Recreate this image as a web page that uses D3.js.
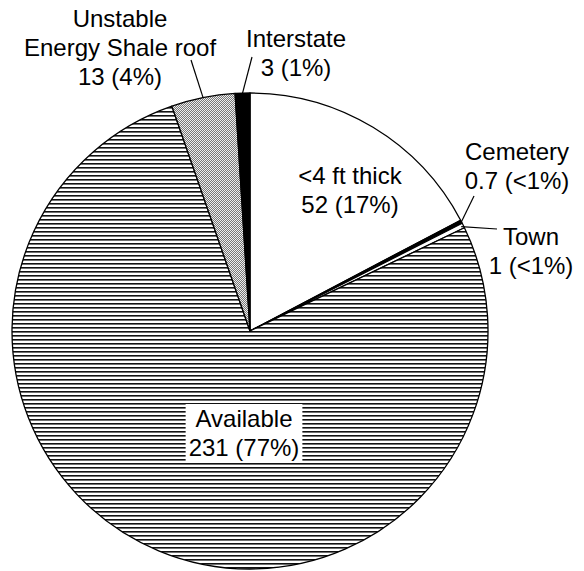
<!DOCTYPE html>
<html>
<head>
<meta charset="utf-8">
<script src="https://cdn.jsdelivr.net/npm/d3@7"></script>
<style>
  body { margin: 0; background: #fff; }
  svg { display: block; font-family: "Liberation Sans", Arial, sans-serif; }
</style>
</head>
<body>
<svg id="chart" width="584" height="571"></svg>
<script>
// slices clockwise from 12 o'clock
const categories = ['<4 ft thick', 'Cemetery', 'Town', 'Available', 'Unstable Energy Shale roof', 'Interstate']
const values = [52, 0.7, 1, 231, 13, 3]
const fills = ['#fff', '#000', '#fff', 'url(#hatch)', 'url(#stipple)', '#000']

// label layout: text lines (name part), anchor x, first baseline y, optional leader end
const labelLayout = {
	'<4 ft thick': { lines: ['<4 ft thick'], x: 350, y: 184 },
	'Cemetery': { lines: ['Cemetery'], x: 517, y: 160, leader: [474, 196], r: 1 },
	'Town': { lines: ['Town'], x: 531, y: 245, leader: [497, 229], r: 0.99 },
	'Available': { lines: ['Available'], x: 244, y: 427, box: true },
	'Unstable Energy Shale roof': { lines: ['Unstable', 'Energy Shale roof'], x: 120, y: 27, leader: [191, 60], r: 1 },
	'Interstate': { lines: ['Interstate'], x: 296, y: 47, leader: [252, 57], r: 1 }
}

const cx = 250
const cy = 331
const radius = 238
const lineHeight = 29

const svg = d3.select('#chart')
const total = d3.sum(values)

const defs = svg.append('defs')
const hatch = defs.append('pattern')
	.attr('id', 'hatch')
	.attr('patternUnits', 'userSpaceOnUse')
	.attr('width', 8)
	.attr('height', 4)
hatch.append('rect').attr('width', 8).attr('height', 4).attr('fill', '#fff')
hatch.append('rect').attr('y', 0).attr('width', 8).attr('height', 1.6).attr('fill', '#111')

const stipple = defs.append('pattern')
	.attr('id', 'stipple')
	.attr('patternUnits', 'userSpaceOnUse')
	.attr('width', 2)
	.attr('height', 2)
stipple.append('rect').attr('width', 2).attr('height', 2).attr('fill', '#eee')
stipple.append('rect').attr('width', 1).attr('height', 1).attr('fill', '#777')
stipple.append('rect').attr('x', 1).attr('y', 1).attr('width', 1).attr('height', 1).attr('fill', '#777')

const data = categories.map((name, i) => ({ name, value: values[i], fill: fills[i] }))

const pie = d3.pie()
	.sort(null)
	.value((d) => d.value)

const arcs = pie(data)

const arc = d3.arc()
	.innerRadius(0)
	.outerRadius(radius)

const g = svg.append('g')
	.attr('transform', `translate(${cx},${cy})`)

g.selectAll('path.slice')
	.data(arcs)
	.join('path')
		.attr('class', 'slice')
		.attr('d', arc)
		.attr('fill', (d) => d.data.fill)
		.attr('stroke', '#000')
		.attr('stroke-width', 1.3)
		.attr('stroke-linejoin', 'round')

const pctText = (v) => {
	const p = Math.round(v / total * 100)
	return p < 1 ? '<1%' : p + '%'
}
const valText = (v) => d3.format('~g')(v) + ' (' + pctText(v) + ')'

// leader lines from the rim at slice mid angle
arcs.forEach((a) => {
	const lay = labelLayout[a.data.name]
	if (!lay.leader) return
	const mid = (a.startAngle + a.endAngle) / 2
	const rr = radius * lay.r
	svg.append('line')
		.attr('x1', cx + rr * Math.sin(mid))
		.attr('y1', cy - rr * Math.cos(mid))
		.attr('x2', lay.leader[0])
		.attr('y2', lay.leader[1])
		.attr('stroke', '#000')
		.attr('stroke-width', 1.2)
})

arcs.forEach((a) => {
	const lay = labelLayout[a.data.name]
	const lines = lay.lines.concat([valText(a.data.value)])
	const grp = svg.append('g')
	const text = grp.append('text')
		.attr('text-anchor', 'middle')
		.attr('font-size', 24)
		.attr('fill', '#000')
	lines.forEach((ln, i) => {
		text.append('tspan')
			.attr('x', lay.x)
			.attr('y', lay.y + i * lineHeight)
			.text(ln)
	})
	if (lay.box) {
		const bb = text.node().getBBox()
		grp.insert('rect', 'text')
			.attr('x', bb.x - 3)
			.attr('y', bb.y - 1)
			.attr('width', bb.width + 6)
			.attr('height', bb.height + 2)
			.attr('fill', '#fff')
	}
})
</script>
</body>
</html>
